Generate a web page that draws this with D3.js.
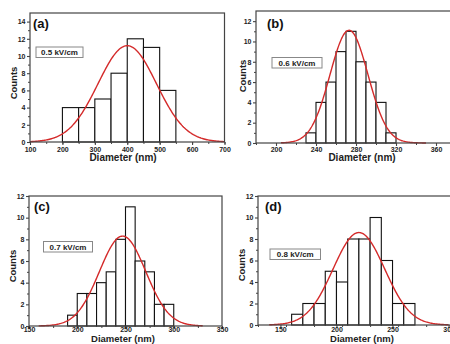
<!DOCTYPE html>
<html>
<head>
<meta charset="utf-8">
<script src="https://cdn.jsdelivr.net/npm/d3@7"></script>
<style>
body { margin: 0; background: #fff; }
svg { display: block; font-family: "Liberation Sans", Arial, sans-serif; font-weight: bold; }
</style>
</head>
<body>
<div id="container"></div>
<script>
var width = 450;
var height = 344;

var panelNames = ["(a)", "(b)", "(c)", "(d)"];
var fieldLabels = ["0.5 kV/cm", "0.6 kV/cm", "0.7 kV/cm", "0.8 kV/cm"];

// histogram bins (left edge) and counts
var binStartsA = [200, 250, 300, 350, 400, 450, 500];
var countsA = [4, 4, 5, 8, 12, 11, 6];
var binStartsB = [230, 240, 250, 260, 270, 280, 290, 300, 310];
var countsB = [1, 4, 6, 9, 11, 8, 6, 4, 1];
var binStartsC = [190, 200, 210, 220, 230, 240, 250, 260, 270, 280, 290];
var countsC = [1, 3, 3, 4, 5, 8, 11, 6, 5, 2, 2];
var binStartsD = [160, 170, 180, 190, 200, 210, 220, 230, 240, 250, 260];
var countsD = [1, 2, 2, 5, 4, 8, 8, 10, 6, 2, 2];
var binWidths = [50, 10, 10, 10];

// gaussian fit (red curve), parameters
var fitCenter = [400, 273, 247, 220];
var fitSigma = [90, 19, 24, 23];
var fitPeak = [11.2, 11.1, 8.3, 8.6];
var fitRange = [[100, 700], [205, 350], [160, 330], [140, 300]];

// axes
var xDomains = [[100, 700], [180, 380], [150, 350], [130, 320]];
var yMaxes = [15, 13, 12, 12];
var xTicksA = [100, 200, 300, 400, 500, 600, 700];
var xTicksB = [200, 240, 280, 320, 360];
var xTicksC = [150, 200, 250, 300, 350];
var xTicksD = [150, 200, 250, 300];
var yTicksA = [0, 2, 4, 6, 8, 10, 12, 14];
var yTicksB = [0, 2, 4, 6, 8, 10, 12];

var binStarts = [binStartsA, binStartsB, binStartsC, binStartsD];
var counts = [countsA, countsB, countsC, countsD];
var xTicks = [xTicksA, xTicksB, xTicksC, xTicksD];
var yTicks = [yTicksA, yTicksB, yTicksB, yTicksB];

// where each panel sits in the figure
var layout = [
    { left: 30, right: 224.5, top: 13, bottom: 142, tickY: 152, titleX: 123, titleY: 161, titleSize: 10, countsX: 13.5, countsY: 83, nameX: 33, nameY: 28, box: [36, 47, 47, 10.5] },
    { left: 256, right: 456, top: 11, bottom: 143, tickY: 152, titleX: 362, titleY: 161, titleSize: 10, countsX: 242.5, countsY: 76, nameX: 267, nameY: 28, box: [272, 57.5, 50, 10.5] },
    { left: 29, right: 222, top: 196, bottom: 326, tickY: 331.5, titleX: 123, titleY: 342, titleSize: 9.5, countsX: 12.5, countsY: 266, nameX: 34, nameY: 211, box: [43.5, 241.5, 49, 10.5] },
    { left: 258, right: 471, top: 196, bottom: 325, tickY: 331.5, titleX: 362, titleY: 342, titleSize: 9.5, countsX: 241.5, countsY: 265, nameX: 265, nameY: 211, box: [270, 249, 50.5, 10.5] }
];

var axisColor = "#444";
var red = "#d42a2a";
var font = "'Liberation Sans', Arial, sans-serif";

var svg = d3.select("#container").append("svg")
    .attr("width", width)
    .attr("height", height);

function drawPanel(i) {
    var L = layout[i];
    var x = d3.scaleLinear().domain(xDomains[i]).range([L.left, L.right]);
    var y = d3.scaleLinear().domain([0, yMaxes[i]]).range([L.bottom, L.top]);
    var g = svg.append("g");

    var data = binStarts[i].map(function(b, k) { return { x0: b, x1: b + binWidths[i], n: counts[i][k] }; });

    // bars
    g.selectAll(".bar").data(data).enter().append("rect")
        .attr("class", "bar")
        .attr("x", function(d) { return x(d.x0); })
        .attr("width", function(d) { return x(d.x1) - x(d.x0); })
        .attr("y", function(d) { return y(d.n); })
        .attr("height", function(d) { return y(0) - y(d.n); })
        .attr("fill", "#fff")
        .attr("stroke", "#111")
        .attr("stroke-width", 1.1);

    // fit curve
    var r = fitRange[i];
    var pts = d3.range(r[0], r[1] + 0.01, (r[1] - r[0]) / 200).map(function(v) {
        var z = (v - fitCenter[i]) / fitSigma[i];
        return [v, fitPeak[i] * Math.exp(-0.5 * z * z)];
    });
    g.append("path")
        .datum(pts)
        .attr("fill", "none")
        .attr("stroke", red)
        .attr("stroke-width", 1.4)
        .attr("d", d3.line().x(function(d) { return x(d[0]); }).y(function(d) { return y(d[1]); }));

    // frame
    g.append("rect")
        .attr("x", L.left).attr("y", L.top)
        .attr("width", L.right - L.left).attr("height", L.bottom - L.top)
        .attr("fill", "none").attr("stroke", axisColor).attr("stroke-width", 1.2);

    // x axis (minor then major ticks)
    var xt = xTicks[i];
    var step = xt[1] - xt[0];
    var minorX = [];
    for (var v = xDomains[i][0]; v <= xDomains[i][1]; v += step / 2) minorX.push(v);
    g.append("g").attr("transform", "translate(0," + L.bottom + ")")
        .call(d3.axisBottom(x).tickValues(minorX).tickSize(2).tickFormat(""))
        .call(function(s) { s.select(".domain").remove(); s.selectAll("line").attr("stroke", axisColor); });
    g.append("g").attr("transform", "translate(0," + L.bottom + ")")
        .call(d3.axisBottom(x).tickValues(xt).tickSize(3).tickFormat(d3.format("d")))
        .call(function(s) {
            s.select(".domain").remove();
            s.selectAll("line").attr("stroke", axisColor).attr("stroke-width", 1.1);
            s.selectAll("text").attr("y", L.tickY - L.bottom).attr("dy", 0)
                .attr("fill", "#222").style("font-size", "7px").style("font-weight", "bold")
                .style("font-family", font);
        });

    // y axis
    g.append("g").attr("transform", "translate(" + L.left + ",0)")
        .call(d3.axisLeft(y).tickValues(d3.range(1, yMaxes[i], 2)).tickSize(2).tickFormat(""))
        .call(function(s) { s.select(".domain").remove(); s.selectAll("line").attr("stroke", axisColor); });
    g.append("g").attr("transform", "translate(" + L.left + ",0)")
        .call(d3.axisLeft(y).tickValues(yTicks[i]).tickSize(3).tickPadding(1.5).tickFormat(d3.format("d")))
        .call(function(s) {
            s.select(".domain").remove();
            s.selectAll("line").attr("stroke", axisColor).attr("stroke-width", 1.1);
            s.selectAll("text").attr("fill", "#222").style("font-size", "7px").style("font-weight", "bold")
                .style("font-family", font);
        });

    // axis titles
    g.append("text")
        .attr("x", L.titleX)
        .attr("y", L.titleY)
        .attr("text-anchor", "middle")
        .attr("fill", "#222")
        .style("font-size", L.titleSize + "px")
        .text("Diameter (nm)");
    g.append("text")
        .attr("transform", "translate(" + L.countsX + "," + L.countsY + ") rotate(-90)")
        .attr("dy", "0.35em")
        .attr("text-anchor", "middle")
        .attr("fill", "#222")
        .style("font-size", "9.5px")
        .text("Counts");

    // panel letter
    g.append("text")
        .attr("x", L.nameX).attr("y", L.nameY)
        .attr("fill", "#111")
        .style("font-size", "13px")
        .text(panelNames[i]);

    // field strength box
    var bx = L.box;
    g.append("rect")
        .attr("x", bx[0]).attr("y", bx[1]).attr("width", bx[2]).attr("height", bx[3])
        .attr("fill", "#fff").attr("stroke", "#888").attr("stroke-width", 1);
    g.append("text")
        .attr("x", bx[0] + bx[2] / 2).attr("y", bx[1] + bx[3] / 2)
        .attr("dy", "0.35em")
        .attr("text-anchor", "middle")
        .attr("fill", "#222")
        .style("font-size", "8px")
        .text(fieldLabels[i]);
}

for (var i = 0; i < 4; i++) drawPanel(i);
</script>
</body>
</html>
